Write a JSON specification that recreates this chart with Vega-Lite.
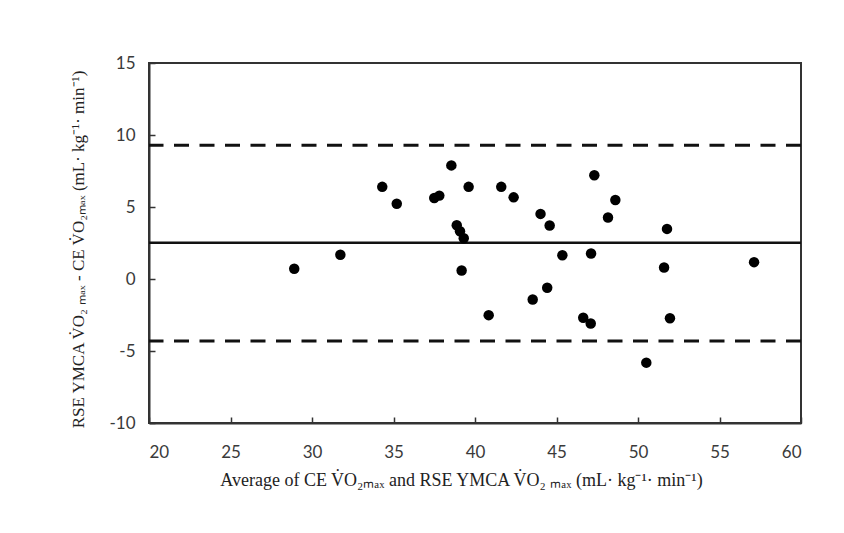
{
  "$schema": "https://vega.github.io/schema/vega-lite/v6.json",
  "width": 652,
  "height": 360,
  "autosize": {"type": "none"},
  "padding": {"left": 149, "top": 63, "right": 43, "bottom": 110},
  "background": "#ffffff",
  "config": {
    "view": {"stroke": "#333333", "strokeWidth": 2, "fill": "#ffffff"},
    "axis": {
      "grid": false,
      "domainColor": "#333333",
      "domainWidth": 2,
      "tickColor": "#333333",
      "tickWidth": 1.5,
      "tickSize": -6,
      "labelFont": "Lato",
      "labelFontSize": 17,
      "labelColor": "#3a3a3a",
      "labelExpr": "toString(datum.value)",
      "titleFont": "Liberation Serif",
      "titleFontSize": 17,
      "titleFontWeight": "normal",
      "titleColor": "#222222"
    }
  },
  "datasets": {
    "points": [
      {"avg": 28.91, "diff": 0.71},
      {"avg": 31.74, "diff": 1.68},
      {"avg": 34.31, "diff": 6.40},
      {"avg": 35.20, "diff": 5.22},
      {"avg": 37.50, "diff": 5.63},
      {"avg": 37.81, "diff": 5.79},
      {"avg": 38.55, "diff": 7.89},
      {"avg": 38.88, "diff": 3.73},
      {"avg": 39.08, "diff": 3.32},
      {"avg": 39.31, "diff": 2.83},
      {"avg": 39.18, "diff": 0.59},
      {"avg": 39.61, "diff": 6.40},
      {"avg": 40.84, "diff": -2.51},
      {"avg": 41.61, "diff": 6.40},
      {"avg": 42.37, "diff": 5.67},
      {"avg": 43.54, "diff": -1.42},
      {"avg": 44.02, "diff": 4.52},
      {"avg": 44.58, "diff": 3.71},
      {"avg": 44.43, "diff": -0.61},
      {"avg": 45.36, "diff": 1.65},
      {"avg": 46.64, "diff": -2.69},
      {"avg": 47.10, "diff": -3.09},
      {"avg": 47.12, "diff": 1.77},
      {"avg": 47.32, "diff": 7.20},
      {"avg": 48.16, "diff": 4.27},
      {"avg": 48.61, "diff": 5.49},
      {"avg": 50.51, "diff": -5.81},
      {"avg": 51.60, "diff": 0.80},
      {"avg": 51.78, "diff": 3.48},
      {"avg": 51.96, "diff": -2.72},
      {"avg": 57.12, "diff": 1.17}
    ],
    "limits": [
      {"line": "upper", "value": 9.28},
      {"line": "lower", "value": -4.31}
    ],
    "mean": [
      {"line": "mean", "value": 2.51}
    ]
  },
  "layer": [
    {
      "data": {"name": "limits"},
      "mark": {"type": "rule", "color": "#111111", "strokeWidth": 3, "strokeDash": [15, 10.5]},
      "encoding": {
        "y": {"field": "value", "type": "quantitative", "scale": {"domain": [-10, 15]}}
      }
    },
    {
      "data": {"name": "mean"},
      "mark": {"type": "rule", "color": "#111111", "strokeWidth": 2.5},
      "encoding": {
        "y": {"field": "value", "type": "quantitative"}
      }
    },
    {
      "data": {"name": "points"},
      "mark": {"type": "circle", "color": "#000000", "opacity": 1, "size": 110},
      "encoding": {
        "x": {
          "field": "avg",
          "type": "quantitative",
          "scale": {"domain": [20, 60], "nice": false, "zero": false},
          "axis": {
            "values": [20, 25, 30, 35, 40, 45, 50, 55, 60],
            "labelPadding": 27,
            "title": "Average of CE V̇O₂ₘₐₓ and RSE YMCA V̇O₂ ₘₐₓ (mL· kg⁻¹· min⁻¹)",
            "titleX": 312,
            "titleY": 62,
            "titleAlign": "center",
            "titleBaseline": "alphabetic",
            "titleFontSize": 18
          }
        },
        "y": {
          "field": "diff",
          "type": "quantitative",
          "scale": {"domain": [-10, 15], "nice": false, "zero": false},
          "axis": {
            "values": [-10, -5, 0, 5, 10, 15],
            "labelPadding": 20,
            "title": "RSE YMCA V̇O₂ ₘₐₓ - CE V̇O₂ₘₐₓ (mL· kg⁻¹· min⁻¹)",
            "titleX": -66,
            "titleY": 186,
            "titleAngle": -90,
            "titleAlign": "center",
            "titleBaseline": "alphabetic"
          }
        }
      }
    }
  ]
}
